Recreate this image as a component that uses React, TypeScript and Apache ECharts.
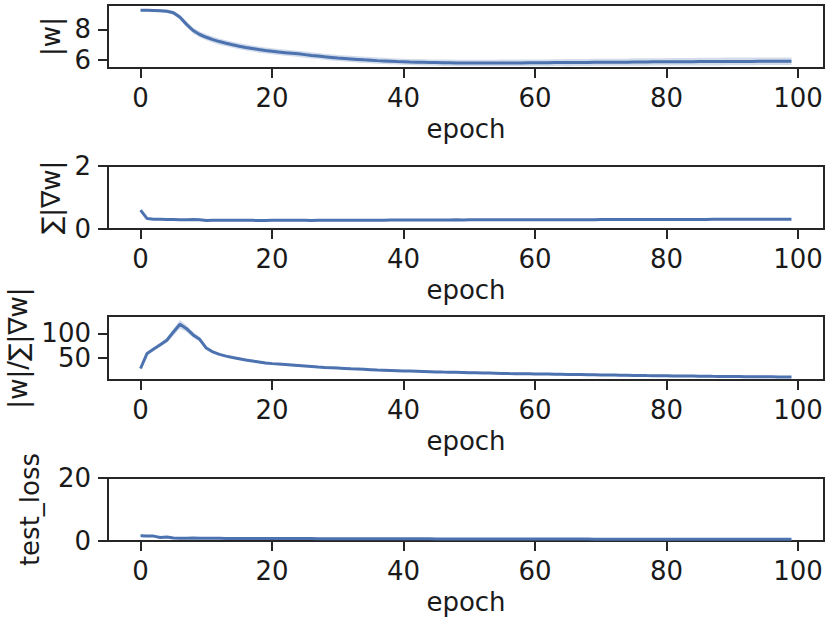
import React, { useEffect, useRef } from "react";
import * as echarts from "echarts";

// epochs 0..99
const epochs: number[] = Array.from({ length: 100 }, (_, i) => i);
const xTicks = [0, 20, 40, 60, 80, 100];

// |w|
const wNorm = [
  9.24, 9.24, 9.23, 9.21, 9.17, 9.08, 8.78, 8.32, 7.92, 7.66,
  7.48, 7.33, 7.2, 7.09, 6.99, 6.9, 6.82, 6.75, 6.68, 6.62,
  6.57, 6.52, 6.48, 6.44, 6.4, 6.35, 6.3, 6.26, 6.21, 6.17,
  6.13, 6.1, 6.07, 6.04, 6.01, 5.99, 5.96, 5.94, 5.92, 5.9,
  5.89, 5.87, 5.86, 5.85, 5.84, 5.83, 5.82, 5.82, 5.81, 5.81,
  5.8, 5.8, 5.8, 5.8, 5.8, 5.81, 5.81, 5.81, 5.81, 5.82,
  5.82, 5.82, 5.82, 5.83, 5.83, 5.83, 5.84, 5.84, 5.84, 5.85,
  5.85, 5.85, 5.86, 5.86, 5.86, 5.87, 5.87, 5.87, 5.88, 5.88,
  5.88, 5.89, 5.89, 5.89, 5.89, 5.9, 5.9, 5.9, 5.9, 5.91,
  5.91, 5.91, 5.91, 5.91, 5.92, 5.92, 5.92, 5.92, 5.92, 5.92,
];
const wNormBand = [
  0.08, 0.08, 0.09, 0.1, 0.11, 0.13, 0.16, 0.19, 0.2, 0.2,
  0.2, 0.2, 0.2, 0.2, 0.2, 0.2, 0.2, 0.2, 0.2, 0.2,
  0.2, 0.2, 0.2, 0.2, 0.2, 0.2, 0.2, 0.2, 0.2, 0.2,
  0.2, 0.2, 0.2, 0.2, 0.2, 0.2, 0.2, 0.2, 0.2, 0.2,
  0.2, 0.2, 0.2, 0.2, 0.2, 0.21, 0.21, 0.21, 0.21, 0.21,
  0.21, 0.21, 0.21, 0.21, 0.21, 0.22, 0.22, 0.22, 0.22, 0.22,
  0.22, 0.22, 0.22, 0.22, 0.22, 0.23, 0.23, 0.23, 0.23, 0.23,
  0.23, 0.23, 0.23, 0.23, 0.23, 0.24, 0.24, 0.24, 0.24, 0.24,
  0.24, 0.24, 0.24, 0.24, 0.24, 0.25, 0.25, 0.25, 0.25, 0.25,
  0.25, 0.25, 0.25, 0.25, 0.25, 0.25, 0.25, 0.25, 0.25, 0.25,
];

// sum |grad w|
const gradSum = [
  0.6, 0.33, 0.31, 0.31, 0.3, 0.3, 0.29, 0.29, 0.3, 0.29,
  0.27, 0.28, 0.28, 0.28, 0.275, 0.275, 0.275, 0.275, 0.27, 0.27,
  0.275, 0.275, 0.275, 0.275, 0.275, 0.275, 0.27, 0.275, 0.275, 0.275,
  0.28, 0.28, 0.28, 0.28, 0.28, 0.28, 0.28, 0.28, 0.285, 0.285,
  0.285, 0.285, 0.285, 0.285, 0.285, 0.285, 0.285, 0.285, 0.29, 0.285,
  0.29, 0.29, 0.29, 0.29, 0.29, 0.29, 0.29, 0.29, 0.29, 0.29,
  0.29, 0.29, 0.295, 0.295, 0.295, 0.295, 0.295, 0.295, 0.295, 0.295,
  0.3, 0.3, 0.3, 0.3, 0.3, 0.3, 0.3, 0.3, 0.3, 0.3,
  0.305, 0.305, 0.305, 0.305, 0.305, 0.305, 0.305, 0.31, 0.31, 0.31,
  0.31, 0.31, 0.31, 0.31, 0.31, 0.31, 0.31, 0.31, 0.31, 0.31,
];

// |w| / sum |grad w|
const ratio = [
  28, 59, 68, 77, 86, 103, 119, 110, 97, 88,
  70, 62, 57, 53.5, 50.5, 48, 45.5, 43.5, 41.5, 39.5,
  38, 37, 36, 35, 34, 33, 32, 31, 30.2, 29.5,
  28.8, 28.1, 27.4, 26.8, 26.2, 25.6, 25, 24.5, 24, 23.5,
  23, 22.6, 22.2, 21.8, 21.4, 21, 20.6, 20.3, 20, 19.7,
  19.4, 19.1, 18.8, 18.5, 18.2, 17.9, 17.6, 17.4, 17.2, 17,
  16.8, 16.6, 16.4, 16.2, 16, 15.8, 15.6, 15.4, 15.2, 15,
  14.8, 14.6, 14.4, 14.2, 14, 13.8, 13.6, 13.4, 13.3, 13.1,
  12.9, 12.7, 12.6, 12.4, 12.3, 12.1, 12, 11.8, 11.7, 11.6,
  11.4, 11.3, 11.2, 11.1, 11, 10.9, 10.8, 10.7, 10.6, 10.5,
];
const ratioBand = [
  3, 3, 3.5, 4, 5, 7, 9, 7, 6, 5,
  3.5, 3, 2.5, 2.5, 2.5, 2.5, 2.5, 2.5, 2.5, 2.5,
  2.2, 2.2, 2.2, 2.2, 2.2, 2.2, 2.2, 2.2, 2.2, 2.2,
  2, 2, 2, 2, 2, 2, 2, 2, 2, 2,
  2, 2, 2, 2, 2, 2, 2, 2, 2, 2,
  2, 2, 2, 2, 2, 2, 2, 2, 2, 2,
  2, 2, 2, 2, 2, 2, 2, 2, 2, 2,
  2, 2, 2, 2, 2, 2, 2, 2, 2, 2,
  2, 2, 2, 2, 2, 2, 2, 2, 2, 2,
  2, 2, 2, 2, 2, 2, 2, 2, 2, 2,
];

// test_loss
const testLoss = [
  1.65, 1.62, 1.55, 1.1, 1.25, 0.95, 0.9, 0.9, 0.92, 0.88,
  0.85, 0.85, 0.84, 0.83, 0.83, 0.82, 0.81, 0.8, 0.8, 0.79,
  0.79, 0.78, 0.78, 0.77, 0.77, 0.76, 0.76, 0.75, 0.75, 0.74,
  0.74, 0.73, 0.73, 0.72, 0.72, 0.71, 0.71, 0.7, 0.7, 0.7,
  0.69, 0.69, 0.68, 0.68, 0.68, 0.67, 0.67, 0.66, 0.66, 0.66,
  0.65, 0.65, 0.65, 0.64, 0.64, 0.64, 0.63, 0.63, 0.63, 0.62,
  0.62, 0.62, 0.61, 0.61, 0.61, 0.6, 0.6, 0.6, 0.6, 0.59,
  0.59, 0.59, 0.59, 0.58, 0.58, 0.58, 0.58, 0.57, 0.57, 0.57,
  0.57, 0.56, 0.56, 0.56, 0.56, 0.56, 0.55, 0.55, 0.55, 0.55,
  0.55, 0.54, 0.54, 0.54, 0.54, 0.54, 0.53, 0.53, 0.53, 0.53,
];

const yLabels = ["|w|", "∑|∇w|", "|w|/∑|∇w|", "test_loss"];
// each inner list: tick labels of one panel; labels that would collide are drawn on a twin axis
const yTicks = [[[6, 8]], [[0, 2]], [[50], [100]], [[0, 20]]];
const xName = "epoch";

const FONT = "DejaVu Sans";
const INK = "#1a1a1a";
const SPINE = "#262626";
const BLUE = "#4C72B0";

const panels = [
  { top: 5, height: 63, ymin: 5.48, ymax: 9.58, nameGap: 42, mean: wNorm, band: wNormBand },
  { top: 166, height: 63, ymin: 0, ymax: 2, nameGap: 42, mean: gradSum, band: null },
  { top: 316, height: 64, ymin: 4.3, ymax: 136, nameGap: 77, mean: ratio, band: ratioBand },
  { top: 478, height: 63, ymin: 0, ymax: 20, nameGap: 65, mean: testLoss, band: null },
];

function bandSeries(idx: number, mean: number[], hw: number[]) {
  const data = epochs.map((e, i) => [e, mean[i] - hw[i], mean[i] + hw[i]]);
  return {
    type: "custom",
    xAxisIndex: idx,
    yAxisIndex: idx,
    silent: true,
    clip: true,
    z: 1,
    data,
    encode: { x: 0, y: [1, 2] },
    renderItem: (params: any, api: any) => {
      if (params.dataIndex !== 0) return null;
      const up = data.map((d) => api.coord([d[0], d[2]]));
      const lo = data.map((d) => api.coord([d[0], d[1]])).reverse();
      return {
        type: "polygon",
        shape: { points: up.concat(lo) },
        style: { fill: "rgba(76,114,176,0.25)", stroke: "none" },
      };
    },
  };
}

export default function App() {
  const ref = useRef<HTMLDivElement>(null);
  useEffect(() => {
    if (!ref.current) return;
    const chart = echarts.init(ref.current, undefined, { renderer: "svg" });
    const grid: any[] = [];
    const xAxis: any[] = [];
    const yAxis: any[] = [];
    const extraY: any[] = [];
    const series: any[] = [];
    const labelStyle = { fontFamily: FONT, fontSize: 26, color: INK, margin: 17, hideOverlap: false };
    panels.forEach((p, i) => {
      grid.push({
        left: 108,
        right: 6,
        top: p.top,
        height: p.height,
        show: true,
        borderColor: SPINE,
        borderWidth: 2,
        backgroundColor: "transparent",
        containLabel: false,
        outerBoundsMode: "none",
      });
      xAxis.push({
        type: "value",
        gridIndex: i,
        min: -4.95,
        max: 103.95,
        name: xName,
        nameLocation: "middle",
        nameGap: 48,
        nameTextStyle: { fontFamily: FONT, fontSize: 26, color: INK },
        axisLine: { show: true, onZero: false, lineStyle: { color: SPINE, width: 2 } },
        axisTick: { show: true, length: 10, lineStyle: { color: SPINE, width: 2 }, customValues: xTicks },
        axisLabel: { ...labelStyle, customValues: xTicks },
        splitLine: { show: false },
      });
      const tickSets = yTicks[i];
      yAxis.push({
        type: "value",
        gridIndex: i,
        min: p.ymin,
        max: p.ymax,
        name: yLabels[i],
        nameLocation: "middle",
        nameGap: p.nameGap,
        nameTextStyle: { fontFamily: FONT, fontSize: 26, color: INK },
        axisLine: { show: true, onZero: false, lineStyle: { color: SPINE, width: 2 } },
        axisTick: { show: true, length: 10, lineStyle: { color: SPINE, width: 2 }, customValues: tickSets[0] },
        axisLabel: { ...labelStyle, customValues: tickSets[0] },
        splitLine: { show: false },
      });
      for (let t = 1; t < tickSets.length; t++) {
        extraY.push({
          type: "value",
          gridIndex: i,
          position: "left",
          min: p.ymin,
          max: p.ymax,
          axisLine: { show: false, onZero: false },
          axisTick: { show: true, length: 10, lineStyle: { color: SPINE, width: 2 }, customValues: tickSets[t] },
          axisLabel: { ...labelStyle, customValues: tickSets[t] },
          splitLine: { show: false },
        });
      }
      if (p.band) series.push(bandSeries(i, p.mean, p.band));
      series.push({
        type: "line",
        xAxisIndex: i,
        yAxisIndex: i,
        data: epochs.map((e, k) => [e, p.mean[k]]),
        showSymbol: false,
        symbol: "none",
        z: 2,
        lineStyle: { color: BLUE, width: 3 },
        silent: true,
      });
    });
    chart.setOption({
      animation: false,
      backgroundColor: "#ffffff",
      grid,
      xAxis,
      yAxis: yAxis.concat(extraY),
      series,
    });
    return () => chart.dispose();
  }, []);
  return (
    <div
      ref={ref}
      style={{ position: "fixed", left: 0, top: 0, width: 830, height: 623, background: "#fff" }}
    />
  );
}
